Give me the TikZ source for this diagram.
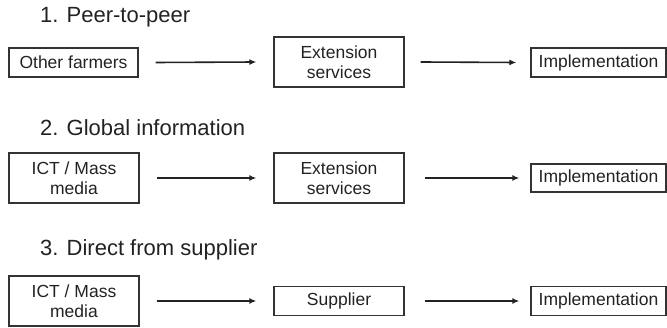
\documentclass[tikz,border=0pt]{standalone}
\usepackage{fontspec}
\setmainfont{Liberation Sans}
\usetikzlibrary{arrows.meta}
\definecolor{ink}{HTML}{222222}
\definecolor{edge}{HTML}{333333}
\tikzset{
  box/.style={draw=edge, line width=1.3pt, text=ink, align=center, inner sep=0pt,
    font=\fontsize{17.5}{20}\selectfont},
  ttl/.style={anchor=base west, inner sep=0pt, text=ink, font=\fontsize{22}{26}\selectfont},
  flow/.style={draw=ink, line width=1.6pt, -{Latex[length=7pt,width=6pt]}, shorten >=0pt}
}
\begin{document}
\begin{tikzpicture}[x=1pt,y=-1pt]
\useasboundingbox (0,0) rectangle (667,328);
% row 1
\node[ttl] (t1) at (40,23) {1. Peer-to-peer};
\node[box, minimum width=129pt, minimum height=29pt] (a1) at (73.5,62.5) {Other farmers};
\node[box, minimum width=130pt, minimum height=50pt] (b1) at (339,62) {Extension\\services};
\node[box, minimum width=135pt, minimum height=29pt] (c1) at (598.5,62.5) {Implementation};
\draw[flow] ([xshift=17pt]a1.east) -- ([xshift=-17pt]b1.west);
\draw[flow] ([xshift=16pt]b1.east) -- ([xshift=-14pt]c1.west);
% row 2
\node[ttl] (t2) at (40,136) {2. Global information};
\node[box, minimum width=130pt, minimum height=50pt] (a2) at (74,178) {ICT / Mass\\media};
\node[box, minimum width=130pt, minimum height=50pt] (b2) at (339,178) {Extension\\services};
\node[box, minimum width=135pt, minimum height=28pt] (c2) at (598.5,178) {Implementation};
\draw[flow] ([xshift=17pt]a2.east) -- ([xshift=-17pt]b2.west);
\draw[flow] ([xshift=20pt]b2.east) -- ([xshift=-11pt]c2.west);
% row 3
\node[ttl] (t3) at (40,256) {3. Direct from supplier};
\node[box, minimum width=130pt, minimum height=50pt] (a3) at (74,301) {ICT / Mass\\media};
\node[box, minimum width=130pt, minimum height=29pt] (b3) at (339,301) {Supplier};
\node[box, minimum width=135pt, minimum height=29pt] (c3) at (598.5,301) {Implementation};
\draw[flow] ([xshift=17pt]a3.east) -- ([xshift=-17pt]b3.west);
\draw[flow] ([xshift=20pt]b3.east) -- ([xshift=-11pt]c3.west);
\end{tikzpicture}
\end{document}
